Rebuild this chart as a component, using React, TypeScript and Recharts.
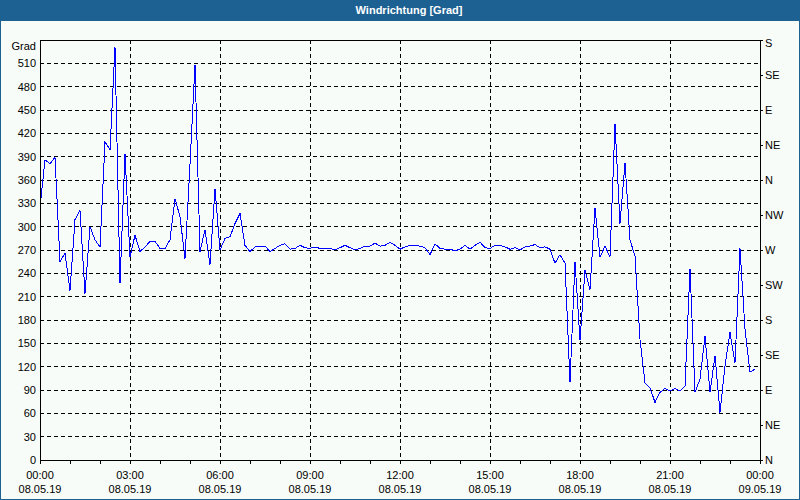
import React from 'react';
import { LineChart, Line, XAxis, YAxis, CartesianGrid, ReferenceLine } from 'recharts';

// time axis in minutes since 00:00, samples every 10 min
const TIME_LABELS = ["00:00", "03:00", "06:00", "09:00", "12:00", "15:00", "18:00", "21:00", "00:00"];
const DATE_LABELS = ["08.05.19", "08.05.19", "08.05.19", "08.05.19", "08.05.19", "08.05.19", "08.05.19", "08.05.19", "09.05.19"];
const HOUR_TICKS = [0, 60, 120, 180, 240, 300, 360, 420, 480, 540, 600, 660, 720, 780, 840, 900, 960, 1020, 1080, 1140, 1200, 1260, 1320, 1380, 1440];
const GRID_X = [180, 360, 540, 720, 900, 1080, 1260];
const GRAD_TICKS = [0, 30, 60, 90, 120, 150, 180, 210, 240, 270, 300, 330, 360, 390, 420, 450, 480, 510, 540];
const COMPASS_TICKS = [0, 45, 90, 135, 180, 225, 270, 315, 360, 405, 450, 495, 540];
const COMPASS_LABELS = ["N", "NE", "E", "SE", "S", "SW", "W", "NW", "N", "NE", "E", "SE", "S"];

const WIND_DIR = [
  325, 386, 381, 389, 255, 266, 218, 309, 321, 214, 300, 283, 274, 409, 399, 531, 227, 394, 261, 289, 268, 274, 281, 281,
  272, 272, 283, 336, 313, 259, 380, 508, 268, 296, 251, 349, 270, 285, 287, 304, 317, 276, 268, 274, 275, 275, 268, 272,
  276, 278, 271, 272, 276, 273, 272, 274, 272, 272, 272, 270, 273, 276, 273, 270, 272, 275, 275, 279, 275, 276, 280, 276,
  271, 274, 276, 276, 275, 273, 264, 278, 272, 271, 271, 269, 271, 276, 271, 276, 280, 273, 272, 276, 276, 274, 271, 273,
  270, 274, 275, 277, 273, 274, 271, 253, 264, 253, 100, 255, 154, 244, 219, 324, 261, 275, 261, 432, 304, 382, 283, 262,
  155, 99, 93, 74, 87, 92, 89, 92, 89, 95, 246, 87, 104, 159, 87, 134, 61, 121, 164, 125, 272, 168, 113, 117,
];

const data = WIND_DIR.map((v, i) => ({ minute: i * 10, dir: v }));

const FONT = '"Liberation Sans", Arial, sans-serif';
const BG = '#f8fcf8';
const BLUE = '#1d6192';

function TimeTick({ x, y, payload }: any) {
  const idx = payload.value / 180;
  if (!Number.isInteger(idx)) return <g />;
  return (
    <g>
      <text x={x} y={y + 13} textAnchor="middle" fill="#000" fontSize={11}>{TIME_LABELS[idx]}</text>
      <text x={x} y={y + 27} textAnchor="middle" fill="#000" fontSize={11}>{DATE_LABELS[idx]}</text>
    </g>
  );
}

function GradTick({ x, y, payload }: any) {
  const top = payload.value === 540;
  return (
    <text x={x} y={y + (top ? 10 : 4)} textAnchor="end" fill="#000" fontSize={11}>
      {top ? 'Grad' : payload.value}
    </text>
  );
}

function CompassTick({ x, y, payload }: any) {
  const idx = COMPASS_TICKS.indexOf(Number(payload.value));
  const top = Number(payload.value) === 540;
  return (
    <text x={x} y={y + (top ? 7 : 4)} textAnchor="start" fill="#000" fontSize={11}>
      {COMPASS_LABELS[idx]}
    </text>
  );
}

export default function App() {
  return (
    <div style={{ position: 'absolute', left: 0, top: 0, width: 800, height: 500, background: BG, border: `1px solid ${BLUE}`, boxSizing: 'border-box', fontFamily: FONT, shapeRendering: 'crispEdges' }}>
      <div style={{ position: 'absolute', left: -1, top: -1, width: 800, height: 21, background: BLUE, color: '#fff', fontWeight: 'bold', fontSize: 11, lineHeight: '21px', textAlign: 'center', paddingLeft: 18, boxSizing: 'border-box' }}>
        Windrichtung [Grad]
      </div>
      <div style={{ position: 'absolute', left: -1, top: -1 }}>
        <LineChart width={800} height={500} data={data} margin={{ top: 40, right: 0, bottom: 0, left: 0 }} style={{ fontFamily: FONT }}>
          <CartesianGrid yAxisId="left" stroke="#000" strokeDasharray="4 3" vertical={false} horizontalValues={GRAD_TICKS} />
          <CartesianGrid yAxisId="left" stroke="#000" strokeDasharray="4 3" horizontal={false} verticalValues={GRID_X} />
          <XAxis dataKey="minute" type="number" domain={[0, 1440]} ticks={HOUR_TICKS} interval={0} height={40}
            stroke="#000" tickSize={4} tickMargin={2} tick={<TimeTick />} />
          <YAxis yAxisId="left" type="number" domain={[0, 540]} ticks={GRAD_TICKS} interval={0} width={40}
            stroke="#000" tickLine={false} tickSize={0} tickMargin={4} tick={<GradTick />} />
          <YAxis yAxisId="right" orientation="right" type="number" domain={[0, 540]} ticks={COMPASS_TICKS} interval={0} width={40}
            allowDataOverflow stroke="#000" tickSize={3} tickMargin={2} tick={<CompassTick />} />
          <ReferenceLine yAxisId="left" y={540} stroke="#000" />
          <Line yAxisId="right" type="linear" dataKey="dir" stroke="none" dot={false} activeDot={false} isAnimationActive={false} />
          <Line yAxisId="left" type="linear" dataKey="dir" stroke="#0000ff" strokeWidth={1} dot={false} isAnimationActive={false} />
        </LineChart>
      </div>
    </div>
  );
}
